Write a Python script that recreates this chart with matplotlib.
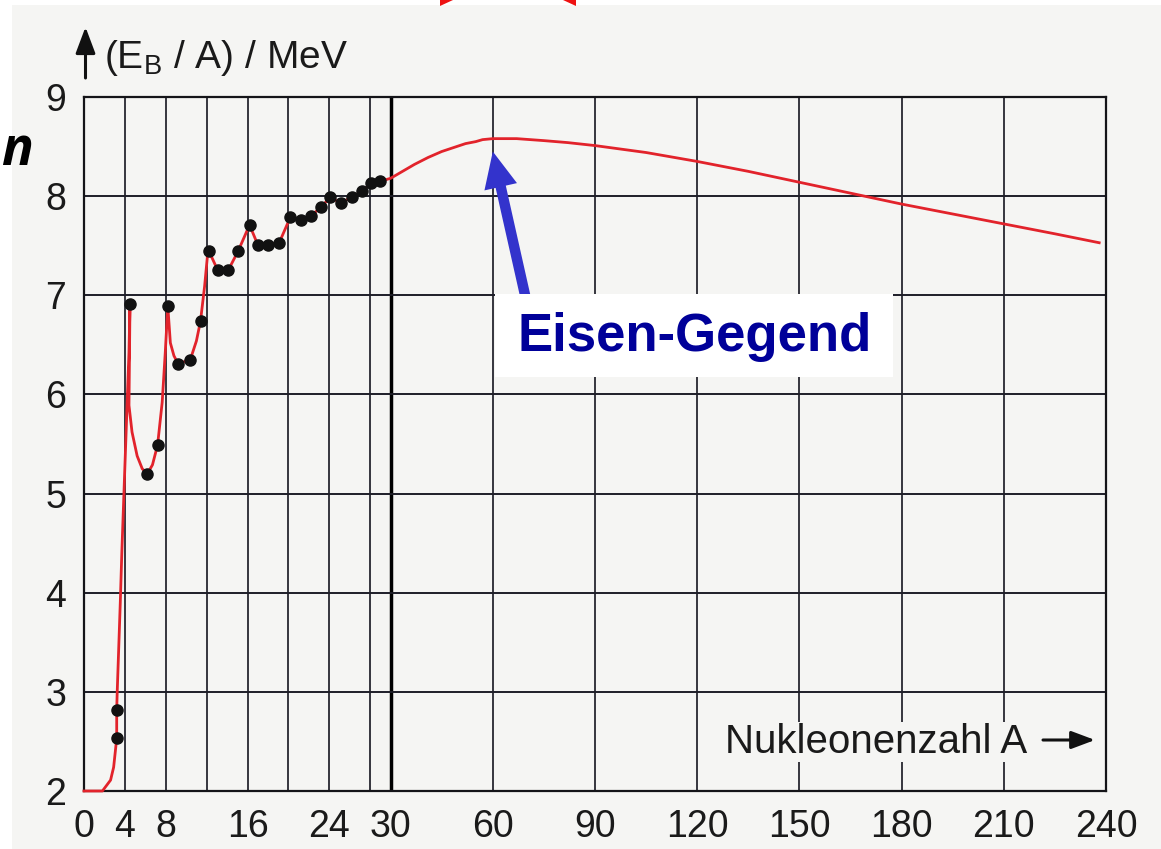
import numpy as np
import matplotlib
matplotlib.use("Agg")
import matplotlib.pyplot as plt
from matplotlib.patches import Rectangle, Polygon

plt.rcParams["font.family"] = ["Liberation Sans", "DejaVu Sans"]
plt.rcParams["mathtext.fontset"] = "custom"
plt.rcParams["mathtext.rm"] = "Liberation Sans"
plt.rcParams["mathtext.it"] = "Liberation Sans:italic"

# Measured binding energy per nucleon of light nuclei
dot_A = [3.2, 3.2, 4.5, 6.2, 7.2, 8.2, 9.2, 10.4, 11.4, 12.2, 13.1, 14.1, 15.1,
         16.2, 17.0, 18.0, 19.1, 20.2, 21.2, 22.2, 23.2, 24.1, 25.1, 26.2,
         27.2, 28.1, 29.0]
dot_E = [2.53, 2.82, 6.91, 5.20, 5.49, 6.89, 6.31, 6.35, 6.74, 7.45, 7.25,
         7.25, 7.45, 7.71, 7.51, 7.51, 7.53, 7.79, 7.76, 7.80, 7.89, 7.99,
         7.93, 7.99, 8.05, 8.13, 8.15]

# Drawn trend curve (light region through the points, then smooth heavy region)
curve_A = [0, 1.8, 2.6, 2.9, 3.2, 3.2, 3.25, 3.55, 3.7, 4.2, 4.4, 4.5, 4.4,
           4.7, 5.2, 5.7, 6.2, 6.7, 7.2, 7.65, 7.95, 8.2, 8.45, 8.8, 9.2, 10.4,
           11.0, 11.4, 11.8, 12.1, 12.2, 13.1, 14.1, 15.1, 16.2, 17.0, 18.0,
           19.1, 20.2, 21.2, 22.2, 23.2, 24.1, 25.1, 26.2, 27.2, 28.1, 29.0,
           30, 32, 34, 37, 41, 45, 48.5, 52, 55, 57, 60, 67, 75, 82, 90, 105,
           120, 135, 150, 165, 180, 195, 210, 225, 238]
curve_E = [2.0, 2.0, 2.11, 2.24, 2.53, 2.82, 3.0, 3.9, 4.4, 5.85, 6.42, 6.91,
           5.89, 5.62, 5.38, 5.25, 5.20, 5.29, 5.49, 5.92, 6.42, 6.89, 6.52,
           6.39, 6.31, 6.35, 6.54, 6.74, 7.09, 7.42, 7.45, 7.25, 7.25, 7.45,
           7.71, 7.51, 7.51, 7.53, 7.79, 7.76, 7.80, 7.89, 7.99, 7.93, 7.99,
           8.05, 8.13, 8.15, 8.18, 8.22, 8.26, 8.32, 8.39, 8.45, 8.49, 8.53,
           8.55, 8.57, 8.58, 8.58, 8.56, 8.54, 8.51, 8.44, 8.35, 8.25, 8.14,
           8.03, 7.92, 7.82, 7.72, 7.62, 7.53]

x_ticks = [0, 4, 8, 16, 24, 30, 60, 90, 120, 150, 180, 210, 240]
x_grid_fine = [4, 8, 12, 16, 20, 24, 28]
x_grid_coarse = [60, 90, 120, 150, 180, 210]
y_ticks = [2, 3, 4, 5, 6, 7, 8, 9]

W, H = 1161, 849
fig = plt.figure(figsize=(W / 100, H / 100), dpi=100, facecolor="white")


def fp(x, y):
    """Pixel position measured from the top-left corner -> figure pixels."""
    return x, H - y


# paper tone of the printed page
fig.add_artist(Rectangle((12 / W, 0), 1 - 12 / W, 1 - 5 / H,
                         transform=fig.transFigure, facecolor="#f5f5f3",
                         edgecolor="none", zorder=-10))

ax = fig.add_axes([84 / W, 1 - 791 / H, (1106 - 84) / W, (791 - 97) / H])
ax.set_facecolor("none")


# nucleon axis: 0..30 stretched, 30..240 compressed by a factor of three
def fwd(a):
    a = np.asarray(a, dtype=float)
    return np.where(a <= 30, a, 30 + (a - 30) / 3.0)


def inv(p):
    p = np.asarray(p, dtype=float)
    return np.where(p <= 30, p, 30 + (p - 30) * 3.0)


ax.set_xscale("function", functions=(fwd, inv))
ax.set_xlim(0, 240)
ax.set_ylim(2, 9)

grid_col = "#1e1e28"
for a in x_grid_fine + x_grid_coarse:
    ax.axvline(a, color=grid_col, lw=1.25, zorder=1)
ax.axvline(30, color="#000000", lw=2.5, zorder=1)
for e in y_ticks[1:-1]:
    ax.axhline(e, color=grid_col, lw=1.4, zorder=1)

for s in ax.spines.values():
    s.set_linewidth(1.6)
    s.set_color("#141418")
    s.set_zorder(1.5)

ax.set_xticks(x_ticks)
ax.set_xticklabels([str(t) for t in x_ticks])
ax.set_yticks(y_ticks)
ax.set_yticklabels([str(t) for t in y_ticks])
ax.tick_params(axis="both", length=0, colors="#1a1a1a")
ax.tick_params(axis="x", labelsize=27, pad=13)
ax.tick_params(axis="y", labelsize=27, pad=13)

ax.plot(curve_A, curve_E, color="#e2232b", lw=2.0, zorder=3,
        solid_joinstyle="round", clip_on=False)
ax.plot(dot_A, dot_E, "o", color="#111111", ms=8, zorder=4, clip_on=False)

# vertical axis caption with arrow
ax.annotate("", xy=fp(85.5, 27), xytext=fp(85.5, 78), xycoords="figure pixels",
            textcoords="figure pixels",
            arrowprops=dict(arrowstyle="-|>,head_length=0.8,head_width=0.3",
                            lw=2.2, color="#111111", mutation_scale=20,
                            shrinkA=0, shrinkB=0))
fig.text(104 / W, 1 - 68 / H, r"(E$_{\rm B}$ / A) / MeV", fontsize=28,
         color="#1a1a1a", ha="left", va="baseline")

# horizontal axis caption with arrow
fig.text(1027 / W, 1 - 753 / H, "Nukleonenzahl A", fontsize=29,
         color="#1a1a1a", ha="right", va="baseline",
         bbox=dict(facecolor="#f5f5f3", edgecolor="none", pad=1))
ax.annotate("", xy=fp(1095, 740), xytext=fp(1043, 740),
            xycoords="figure pixels", textcoords="figure pixels",
            arrowprops=dict(arrowstyle="-|>,head_length=0.8,head_width=0.3",
                            lw=2.2, color="#111111", mutation_scale=18,
                            shrinkA=0, shrinkB=0))

# iron-peak callout
ax.annotate("", xy=(60, 8.45), xytext=(70, 6.92), xycoords="data",
            arrowprops=dict(arrowstyle="simple,head_length=26,head_width=24,tail_width=7.5",
                            mutation_scale=1, color="#3333cc", lw=0,
                            shrinkA=0, shrinkB=0), zorder=5)
fig.add_artist(Rectangle((495 / W, 1 - 377 / H), (893 - 495) / W, (377 - 294) / H,
                         transform=fig.transFigure, facecolor="white",
                         edgecolor="none", zorder=6))
fig.text(695 / W, 1 - 337 / H, "Eisen-Gegend", fontsize=38, fontweight="bold",
         color="#000099", ha="center", va="center", zorder=7)

# fragments of the surrounding page
fig.text(1 / W, 1 - 165 / H, "n", fontsize=38, fontweight="bold",
         fontstyle="italic", family=["Open Sans", "DejaVu Sans"],
         color="#000000", ha="left", va="baseline")
fig.add_artist(Polygon([fp(440, 0), fp(453, 0), fp(440, 6)], closed=True,
                       transform=None, facecolor="#ee1111", edgecolor="none"))
fig.add_artist(Polygon([fp(563, 0), fp(576, 0), fp(576, 6)], closed=True,
                       transform=None, facecolor="#ee1111", edgecolor="none"))

fig.savefig("out.png", dpi=100, facecolor=fig.get_facecolor())
